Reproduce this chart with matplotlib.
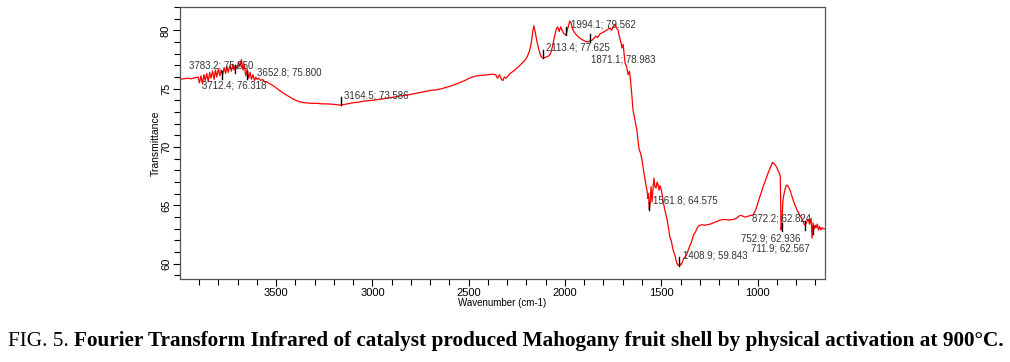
import matplotlib.pyplot as plt
from matplotlib.ticker import MultipleLocator

# FTIR spectrum (wavenumber cm-1, transmittance %)
wavenumber = [4000, 3980, 3960, 3940, 3920, 3905, 3898, 3890, 3882, 3875, 3868, 3860, 3852, 3845,
              3838, 3830, 3822, 3815, 3808, 3800, 3792, 3785, 3778, 3770, 3762, 3755, 3748, 3740,
              3732, 3725, 3718, 3710, 3702, 3695, 3688, 3680, 3672, 3665, 3658, 3650, 3642, 3635,
              3628, 3620, 3612, 3605, 3598, 3590, 3580, 3570, 3560, 3550, 3530, 3510, 3490, 3470,
              3450, 3430, 3410, 3390, 3370, 3350, 3320, 3290, 3260, 3230, 3200, 3165, 3130, 3100,
              3070, 3040, 3000, 2960, 2920, 2880, 2850, 2820, 2790, 2760, 2730, 2700, 2670, 2640,
              2610, 2580, 2550, 2520, 2490, 2460, 2430, 2400, 2380, 2360, 2350, 2340, 2330, 2322,
              2315, 2305, 2295, 2285, 2260, 2234, 2210, 2197, 2185, 2175, 2168, 2162, 2155, 2145,
              2135, 2125, 2115, 2100, 2085, 2075, 2065, 2055, 2045, 2038, 2030, 2022, 2015, 2005,
              1995, 1985, 1975, 1968, 1960, 1950, 1940, 1925, 1910, 1895, 1880, 1870, 1860, 1850,
              1840, 1830, 1818, 1805, 1795, 1785, 1775, 1766, 1758, 1750, 1740, 1732, 1724, 1718,
              1710, 1704, 1698, 1692, 1688, 1680, 1672, 1665, 1660, 1652, 1647, 1640, 1632, 1626,
              1621, 1615, 1608, 1600, 1592, 1584, 1578, 1574, 1570, 1566, 1562, 1558, 1553, 1548,
              1543, 1538, 1533, 1527, 1522, 1517, 1512, 1507, 1501, 1495, 1490, 1480, 1470, 1462,
              1455, 1447, 1439, 1430, 1420, 1414, 1409, 1403, 1398, 1392, 1385, 1376, 1366, 1355,
              1345, 1340, 1332, 1325, 1318, 1309, 1300, 1288, 1275, 1262, 1245, 1231, 1215, 1195,
              1170, 1150, 1127, 1110, 1091, 1078, 1065, 1045, 1023, 1010, 997, 985, 971, 958,
              945, 932, 922, 915, 905, 899, 888, 882, 878, 874, 868, 860, 852, 846,
              838, 831, 820, 812, 805, 795, 785, 775, 765, 758, 753, 745, 737, 730,
              722, 717, 712, 705, 700, 696, 690, 684, 678, 672, 665, 658, 650]
transmittance = [75.8, 75.85, 75.9, 75.85, 75.95, 76.0, 75.5, 76.1, 75.4, 76.2, 75.7, 76.3, 75.6, 76.4,
                 75.9, 76.5, 75.8, 76.6, 76.0, 76.7, 76.1, 76.6, 76.2, 76.8, 76.3, 76.9, 76.4, 77.0,
                 76.5, 77.1, 76.6, 77.0, 76.7, 77.3, 76.9, 77.5, 76.6, 77.1, 76.1, 76.7, 75.9, 76.4,
                 75.8, 76.2, 75.7, 76.0, 75.8, 75.9, 75.7, 75.8, 75.6, 75.6, 75.4, 75.2, 74.95, 74.7,
                 74.5, 74.3, 74.1, 73.95, 73.85, 73.8, 73.75, 73.75, 73.7, 73.7, 73.65, 73.6, 73.7, 73.8,
                 73.85, 73.95, 74.0, 74.1, 74.2, 74.3, 74.4, 74.45, 74.55, 74.65, 74.75, 74.85, 74.9, 75.0,
                 75.15, 75.3, 75.5, 75.7, 75.95, 76.1, 76.15, 76.2, 76.25, 76.2, 75.9, 76.2, 75.8, 75.7,
                 76.0, 75.9, 76.1, 76.3, 76.6, 77.0, 77.4, 77.7, 78.2, 78.9, 79.8, 80.4, 79.9, 79.0,
                 78.3, 77.8, 77.6, 77.7, 77.8, 78.0, 78.6, 79.4, 80.1, 80.3, 79.9, 80.3, 80.0, 79.7,
                 79.6, 80.2, 80.8, 80.6, 80.1, 79.8, 79.6, 79.35, 79.2, 79.05, 79.0, 79.1, 79.15, 79.3,
                 79.5, 79.4, 79.7, 79.8, 79.9, 80.0, 80.1, 80.2, 80.0, 80.3, 80.5, 80.2, 80.0, 79.5,
                 79.0, 78.5, 78.8, 77.8, 77.2, 76.9, 76.2, 76.5, 75.8, 74.3, 73.2, 72.6, 71.9, 71.4,
                 70.6, 69.8, 69.5, 68.9, 68.0, 67.2, 66.6, 66.3, 65.6, 66.0, 64.7, 65.2, 66.6, 65.3,
                 66.4, 67.35, 66.6, 66.5, 67.0, 66.8, 66.3, 66.7, 66.4, 65.9, 65.3, 64.5, 63.8, 63.0,
                 62.3, 61.9, 61.2, 60.8, 60.1, 59.9, 59.85, 60.0, 59.9, 60.1, 60.4, 60.6, 60.9, 61.4,
                 61.8, 62.05, 62.5, 62.65, 62.9, 63.2, 63.3, 63.35, 63.3, 63.35, 63.4, 63.5, 63.6, 63.75,
                 63.8, 63.75, 63.8, 63.9, 64.15, 64.1, 64.0, 64.1, 64.2, 64.6, 65.3, 65.9, 66.6, 67.2,
                 67.8, 68.3, 68.7, 68.6, 68.4, 68.2, 67.8, 67.5, 62.9, 63.5, 65.5, 66.2, 66.7, 66.75,
                 66.5, 66.3, 65.7, 65.3, 65.0, 64.6, 64.3, 64.0, 63.7, 63.4, 63.3, 63.6, 63.8, 63.4,
                 63.9, 62.2, 63.5, 63.0, 63.3, 63.1, 63.4, 62.9, 63.2, 62.9, 63.1, 63.0, 63.0]

# peak picks: marker position and where the label text sits
peak_wn = [3783.2, 3712.4, 3652.8, 3164.5, 2113.4, 1994.1, 1871.1, 1561.8, 1408.9, 872.2, 752.9, 711.9]
peak_t = [75.850, 76.318, 75.800, 73.586, 77.625, 79.562, 78.983, 64.575, 59.843, 62.824, 62.936, 62.567]
label_wn = [3953, 3886, 3600, 3148, 2099, 1969, 1865, 1543, 1387, 1029, 1086, 1034]
label_t = [77.0, 75.3, 76.4, 74.45, 78.5, 80.5, 77.5, 65.4, 60.7, 63.85, 62.2, 61.3]

fig = plt.figure(figsize=(10.1, 3.62), dpi=100)
ax = fig.add_axes([0.1782, 0.2293, 0.6386, 0.7514])

ax.plot(wavenumber, transmittance, color='red', linewidth=0.9)

for w, t, lw_, lt in zip(peak_wn, peak_t, label_wn, label_t):
    ax.plot([w, w], [t, t + 0.7], color='black', linewidth=1.0)
    ax.text(lw_, lt, f'{w:.1f}; {t:.3f}', fontsize=7, family='Liberation Sans',
            color='#333333', va='center', ha='left')

ax.set_xlim(3999, 650)
ax.set_ylim(58.7, 82)
ax.xaxis.set_major_locator(MultipleLocator(500))
ax.xaxis.set_minor_locator(MultipleLocator(100))
ax.yaxis.set_major_locator(MultipleLocator(5))
ax.yaxis.set_minor_locator(MultipleLocator(1))
ax.tick_params(which='major', length=5, width=0.8, labelsize=8, direction='out', pad=1.5)
ax.tick_params(which='minor', length=4, width=0.8, direction='out')
for lab in ax.get_xticklabels() + ax.get_yticklabels():
    lab.set_family('Liberation Sans')
for lab in ax.get_yticklabels():
    lab.set_rotation(90)
    lab.set_va('center')
for s in ax.spines.values():
    s.set_color('#555555')
    s.set_linewidth(0.9)

ax.set_xlabel('Wavenumber (cm-1)', fontsize=7, family='Liberation Sans', labelpad=0)
ax.set_ylabel('Transmittance', fontsize=7.5, family='Liberation Sans', labelpad=0)

# caption: regular "FIG. 5." then bold remainder
t1 = fig.text(0.008, 0.045, 'FIG. 5. ', fontsize=15.3, family='Liberation Serif')
ax.annotate('Fourier Transform Infrared of catalyst produced Mahogany fruit shell by physical activation at 900\u00b0C.',
            xy=(1, 0), xycoords=t1, va='bottom', ha='left', fontsize=15.3,
            family='Liberation Serif', weight='bold', annotation_clip=False)

plt.savefig('out.png', dpi=100)
